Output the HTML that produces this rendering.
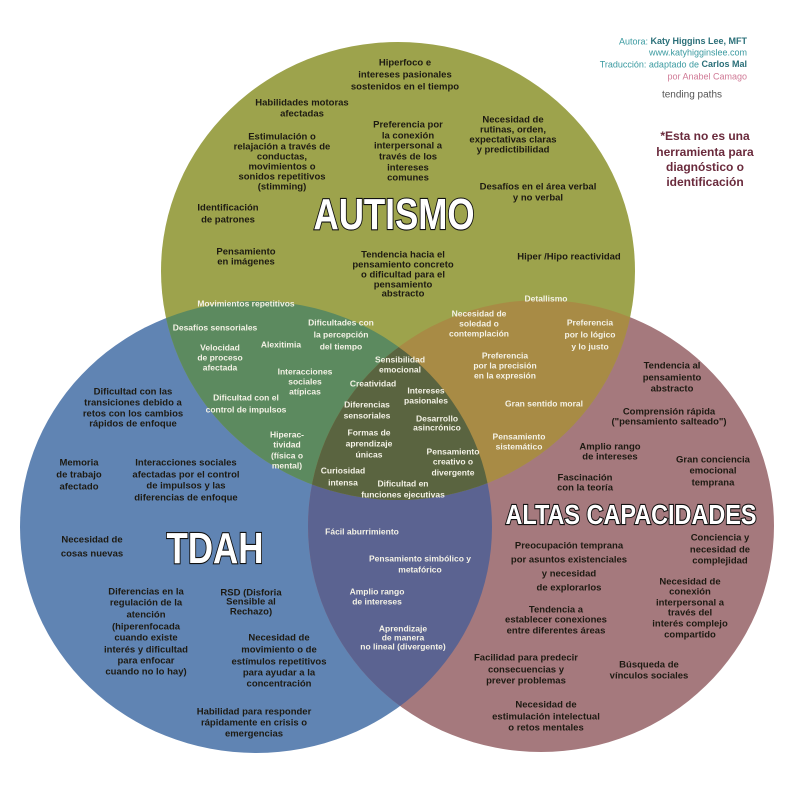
<!DOCTYPE html>
<html><head><meta charset="utf-8"><style>
html,body{margin:0;padding:0;background:#fff;}
svg{display:block;}
text{font-family:"Liberation Sans",sans-serif;font-weight:bold;text-anchor:middle;dominant-baseline:middle;}
.d{fill:#1d1a12;font-size:9.5px;}
.w{fill:#f4f2e6;font-size:8.5px;}
.t{fill:#fff;stroke:#111;stroke-width:2.2px;paint-order:stroke;font-weight:bold;dominant-baseline:alphabetic;}
</style></head><body>
<svg width="800" height="795" viewBox="0 0 800 795" xmlns="http://www.w3.org/2000/svg">
<defs>
<clipPath id="cT"><ellipse cx="398" cy="271" rx="237" ry="229"/></clipPath>
<clipPath id="cB"><ellipse cx="256" cy="527" rx="236" ry="226"/></clipPath>
<clipPath id="cM"><ellipse cx="541" cy="526" rx="233" ry="226"/></clipPath>
</defs>
<rect width="800" height="795" fill="#fff"/>
<ellipse cx="256" cy="527" rx="236" ry="226" fill="#6084b3"/>
<ellipse cx="541" cy="526" rx="233" ry="226" fill="#a5797d"/>
<ellipse cx="398" cy="271" rx="237" ry="229" fill="#9da34c"/>
<g clip-path="url(#cB)"><ellipse cx="541" cy="526" rx="233" ry="226" fill="#5b6391"/></g>
<g clip-path="url(#cT)"><ellipse cx="256" cy="527" rx="236" ry="226" fill="#5c8a5f"/></g>
<g clip-path="url(#cT)"><ellipse cx="541" cy="526" rx="233" ry="226" fill="#a88b45"/></g>
<g clip-path="url(#cT)"><g clip-path="url(#cB)"><ellipse cx="541" cy="526" rx="233" ry="226" fill="#5a6440"/></g></g>

<!-- credits -->
<text x="747" y="42" style="text-anchor:end;font-size:9px;font-weight:normal;fill:#3a9aa0">Autora: <tspan style="font-weight:bold;fill:#2a6f78">Katy Higgins Lee, MFT</tspan></text>
<text x="747" y="53" style="text-anchor:end;font-size:9px;font-weight:normal;fill:#3a9aa0">www.katyhigginslee.com</text>
<text x="747" y="65" style="text-anchor:end;font-size:9px;font-weight:normal;fill:#3a9aa0">Traducción: adaptado de <tspan style="font-weight:bold;fill:#2a6f78">Carlos Mal</tspan></text>
<text x="747" y="77" style="text-anchor:end;font-size:9px;font-weight:normal;fill:#d07a96">por Anabel Camago</text>
<text x="692" y="95" style="font-size:10px;font-weight:normal;fill:#555">tending paths</text>
<g style="fill:#6a2a3c;font-size:12px"><text x="705" y="137">*Esta no es una</text><text x="705" y="153">herramienta para</text><text x="705" y="168">diagnóstico o</text><text x="705" y="183">identificación</text></g>

<!-- titles -->
<text class="t" x="394" y="229" style="font-size:44px" textLength="161" lengthAdjust="spacingAndGlyphs">AUTISMO</text>
<text class="t" x="215" y="563" style="font-size:44px" textLength="97" lengthAdjust="spacingAndGlyphs">TDAH</text>
<text class="t" x="631" y="524" style="font-size:28px" textLength="251" lengthAdjust="spacingAndGlyphs">ALTAS CAPACIDADES</text>

<!-- autismo -->
<g class="d">
<text x="405" y="63">Hiperfoco e</text><text x="405" y="75">intereses pasionales</text><text x="405" y="87">sostenidos en el tiempo</text>
<text x="302" y="103">Habilidades motoras</text><text x="302" y="114">afectadas</text>
<text x="282" y="137">Estimulación o</text><text x="282" y="147">relajación a través de</text><text x="282" y="157">conductas,</text><text x="282" y="167">movimientos o</text><text x="282" y="177">sonidos repetitivos</text><text x="282" y="187">(stimming)</text>
<text x="408" y="125">Preferencia por</text><text x="408" y="136">la conexión</text><text x="408" y="146">interpersonal a</text><text x="408" y="157">través de los</text><text x="408" y="168">intereses</text><text x="408" y="178">comunes</text>
<text x="513" y="120">Necesidad de</text><text x="513" y="130">rutinas, orden,</text><text x="513" y="140">expectativas claras</text><text x="513" y="150">y predictibilidad</text>
<text x="538" y="187">Desafíos en el área verbal</text><text x="538" y="198">y no verbal</text>
<text x="228" y="208">Identificación</text><text x="228" y="220">de patrones</text>
<text x="246" y="252">Pensamiento</text><text x="246" y="262">en imágenes</text>
<text x="403" y="255">Tendencia hacia el</text><text x="403" y="265">pensamiento concreto</text><text x="403" y="275">o dificultad para el</text><text x="403" y="285">pensamiento</text><text x="403" y="294">abstracto</text>
<text x="569" y="257">Hiper /Hipo reactividad</text>
</g>

<!-- autismo ∩ tdah -->
<g class="w">
<text x="246" y="304">Movimientos  repetitivos</text>
<text x="215" y="328">Desafíos sensoriales</text>
<text x="341" y="323">Dificultades con</text><text x="341" y="335">la percepción</text><text x="341" y="347">del tiempo</text>
<text x="220" y="348">Velocidad</text><text x="220" y="358">de proceso</text><text x="220" y="368">afectada</text>
<text x="281" y="345">Alexitimia</text>
<text x="305" y="372">Interacciones</text><text x="305" y="382">sociales</text><text x="305" y="392">atípicas</text>
<text x="246" y="398">Dificultad con el</text><text x="246" y="410">control de impulsos</text>
<text x="287" y="435">Hiperac-</text><text x="287" y="445">tividad</text><text x="287" y="456">(física o</text><text x="287" y="466">mental)</text>
</g>

<!-- autismo ∩ AC -->
<g class="w">
<text x="546" y="299">Detallismo</text>
<text x="479" y="314">Necesidad de</text><text x="479" y="324">soledad o</text><text x="479" y="334">contemplación</text>
<text x="590" y="323">Preferencia</text><text x="590" y="335">por lo lógico</text><text x="590" y="347">y lo justo</text>
<text x="505" y="356">Preferencia</text><text x="505" y="366">por la precisión</text><text x="505" y="376">en la expresión</text>
<text x="544" y="404">Gran sentido moral</text>
<text x="519" y="437">Pensamiento</text><text x="519" y="447">sistemático</text>
</g>

<!-- center -->
<g class="w">
<text x="400" y="360">Sensibilidad</text><text x="400" y="370">emocional</text>
<text x="373" y="384">Creatividad</text>
<text x="426" y="391">Intereses</text><text x="426" y="401">pasionales</text>
<text x="367" y="405">Diferencias</text><text x="367" y="416">sensoriales</text>
<text x="437" y="419">Desarrollo</text><text x="437" y="428">asincrónico</text>
<text x="369" y="433">Formas de</text><text x="369" y="444">aprendizaje</text><text x="369" y="455">únicas</text>
<text x="453" y="452">Pensamiento</text><text x="453" y="462">creativo o</text><text x="453" y="473">divergente</text>
<text x="343" y="471">Curiosidad</text><text x="343" y="483">intensa</text>
<text x="403" y="484">Dificultad en</text><text x="403" y="495">funciones ejecutivas</text>
</g>

<!-- tdah ∩ AC -->
<g class="w">
<text x="362" y="532">Fácil aburrimiento</text>
<text x="420" y="559">Pensamiento simbólico y</text><text x="420" y="570">metafórico</text>
<text x="377" y="592">Amplio rango</text><text x="377" y="602">de intereses</text>
<text x="403" y="629">Aprendizaje</text><text x="403" y="638">de manera</text><text x="403" y="647">no lineal (divergente)</text>
</g>

<!-- tdah -->
<g class="d">
<text x="133" y="392">Dificultad con las</text><text x="133" y="403">transiciones debido a</text><text x="133" y="414">retos con los cambios</text><text x="133" y="424">rápidos de enfoque</text>
<text x="79" y="463">Memoria</text><text x="79" y="475">de trabajo</text><text x="79" y="487">afectado</text>
<text x="186" y="463">Interacciones sociales</text><text x="186" y="475">afectadas por el control</text><text x="186" y="486">de impulsos y las</text><text x="186" y="498">diferencias de enfoque</text>
<text x="92" y="540">Necesidad de</text><text x="92" y="554">cosas nuevas</text>
<text x="146" y="592">Diferencias en la</text><text x="146" y="603">regulación de la</text><text x="146" y="615">atención</text><text x="146" y="627">(hiperenfocada</text><text x="146" y="638">cuando existe</text><text x="146" y="650">interés y dificultad</text><text x="146" y="661">para enfocar</text><text x="146" y="672">cuando no lo hay)</text>
<text x="251" y="593">RSD (Disforia</text><text x="251" y="602">Sensible al</text><text x="251" y="612">Rechazo)</text>
<text x="279" y="638">Necesidad de</text><text x="279" y="650">movimiento o de</text><text x="279" y="662">estímulos repetitivos</text><text x="279" y="673">para ayudar a la</text><text x="279" y="684">concentración</text>
<text x="254" y="712">Habilidad para responder</text><text x="254" y="723">rápidamente en crisis o</text><text x="254" y="734">emergencias</text>
</g>

<!-- AC -->
<g class="d">
<text x="672" y="366">Tendencia al</text><text x="672" y="378">pensamiento</text><text x="672" y="389">abstracto</text>
<text x="669" y="412">Comprensión rápida</text><text x="669" y="422">("pensamiento salteado")</text>
<text x="610" y="447">Amplio rango</text><text x="610" y="457">de intereses</text>
<text x="713" y="460">Gran conciencia</text><text x="713" y="471">emocional</text><text x="713" y="483">temprana</text>
<text x="585" y="478">Fascinación</text><text x="585" y="488">con la teoría</text>
<text x="569" y="546">Preocupación temprana</text><text x="569" y="560">por asuntos existenciales</text><text x="569" y="574">y necesidad</text><text x="569" y="588">de explorarlos</text>
<text x="720" y="538">Conciencia y</text><text x="720" y="550">necesidad de</text><text x="720" y="561">complejidad</text>
<text x="690" y="582">Necesidad de</text><text x="690" y="592">conexión</text><text x="690" y="603">interpersonal a</text><text x="690" y="613">través del</text><text x="690" y="624">interés complejo</text><text x="690" y="635">compartido</text>
<text x="556" y="610">Tendencia a</text><text x="556" y="620">establecer conexiones</text><text x="556" y="631">entre diferentes áreas</text>
<text x="526" y="658">Facilidad para predecir</text><text x="526" y="670">consecuencias y</text><text x="526" y="681">prever problemas</text>
<text x="649" y="665">Búsqueda de</text><text x="649" y="676">vínculos sociales</text>
<text x="546" y="705">Necesidad de</text><text x="546" y="717">estimulación intelectual</text><text x="546" y="728">o retos mentales</text>
</g>
</svg>
</body></html>
